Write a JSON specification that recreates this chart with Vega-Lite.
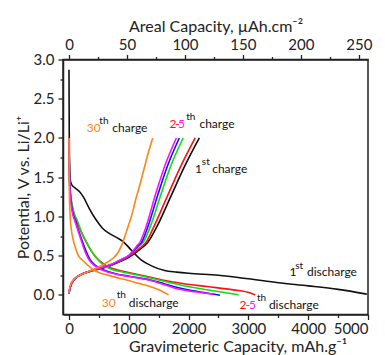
{
  "$schema": "https://vega.github.io/schema/vega-lite/v6.json",
  "width": 305,
  "height": 255,
  "autosize": "none",
  "padding": {"left": 63, "top": 59.5, "right": 17, "bottom": 40.5},
  "background": "white",
  "config": {
    "view": {"stroke": "#222", "strokeWidth": 1.5},
    "font": "Lato",
    "axis": {
      "labelFont": "Lato", "labelFontSize": 15, "labelColor": "#222",
      "titleFont": "Lato", "titleFontSize": 16, "titleFontWeight": "normal", "titleColor": "#222",
      "domainColor": "#222", "domainWidth": 1.5, "tickColor": "#222", "tickWidth": 1.3,
      "grid": false
    }
  },
  "datasets": {
    "curves": [
      {"cycle":"1st","step":"discharge","cap":0,"v":2.87},
      {"cycle":"1st","step":"discharge","cap":2,"v":2.5},
      {"cycle":"1st","step":"discharge","cap":5,"v":2.0},
      {"cycle":"1st","step":"discharge","cap":12,"v":1.6},
      {"cycle":"1st","step":"discharge","cap":25,"v":1.45},
      {"cycle":"1st","step":"discharge","cap":50,"v":1.4},
      {"cycle":"1st","step":"discharge","cap":100,"v":1.365},
      {"cycle":"1st","step":"discharge","cap":170,"v":1.32},
      {"cycle":"1st","step":"discharge","cap":240,"v":1.25},
      {"cycle":"1st","step":"discharge","cap":340,"v":1.1},
      {"cycle":"1st","step":"discharge","cap":450,"v":0.96},
      {"cycle":"1st","step":"discharge","cap":560,"v":0.85},
      {"cycle":"1st","step":"discharge","cap":680,"v":0.78},
      {"cycle":"1st","step":"discharge","cap":800,"v":0.73},
      {"cycle":"1st","step":"discharge","cap":920,"v":0.67},
      {"cycle":"1st","step":"discharge","cap":1030,"v":0.58},
      {"cycle":"1st","step":"discharge","cap":1200,"v":0.45},
      {"cycle":"1st","step":"discharge","cap":1380,"v":0.37},
      {"cycle":"1st","step":"discharge","cap":1600,"v":0.31},
      {"cycle":"1st","step":"discharge","cap":1800,"v":0.29},
      {"cycle":"1st","step":"discharge","cap":2000,"v":0.275},
      {"cycle":"1st","step":"discharge","cap":2500,"v":0.25},
      {"cycle":"1st","step":"discharge","cap":3000,"v":0.205},
      {"cycle":"1st","step":"discharge","cap":3500,"v":0.155},
      {"cycle":"1st","step":"discharge","cap":4000,"v":0.115},
      {"cycle":"1st","step":"discharge","cap":4500,"v":0.07},
      {"cycle":"1st","step":"discharge","cap":4980,"v":0.01},

      {"cycle":"1st","step":"charge","cap":0,"v":0.02},
      {"cycle":"1st","step":"charge","cap":10,"v":0.06},
      {"cycle":"1st","step":"charge","cap":30,"v":0.12},
      {"cycle":"1st","step":"charge","cap":70,"v":0.18},
      {"cycle":"1st","step":"charge","cap":130,"v":0.225},
      {"cycle":"1st","step":"charge","cap":220,"v":0.262},
      {"cycle":"1st","step":"charge","cap":330,"v":0.292},
      {"cycle":"1st","step":"charge","cap":450,"v":0.318},
      {"cycle":"1st","step":"charge","cap":600,"v":0.35},
      {"cycle":"1st","step":"charge","cap":720,"v":0.38},
      {"cycle":"1st","step":"charge","cap":850,"v":0.425},
      {"cycle":"1st","step":"charge","cap":1000,"v":0.48},
      {"cycle":"1st","step":"charge","cap":1100,"v":0.53},
      {"cycle":"1st","step":"charge","cap":1200,"v":0.59},
      {"cycle":"1st","step":"charge","cap":1310,"v":0.66},
      {"cycle":"1st","step":"charge","cap":1470,"v":0.87},
      {"cycle":"1st","step":"charge","cap":1700,"v":1.25},
      {"cycle":"1st","step":"charge","cap":1935,"v":1.64},
      {"cycle":"1st","step":"charge","cap":2180,"v":2.0},

      {"cycle":"2nd","step":"discharge","cap":0,"v":2.0},
      {"cycle":"2nd","step":"discharge","cap":4,"v":1.75},
      {"cycle":"2nd","step":"discharge","cap":10,"v":1.5},
      {"cycle":"2nd","step":"discharge","cap":25,"v":1.3},
      {"cycle":"2nd","step":"discharge","cap":50,"v":1.15},
      {"cycle":"2nd","step":"discharge","cap":90,"v":1.02},
      {"cycle":"2nd","step":"discharge","cap":140,"v":0.92},
      {"cycle":"2nd","step":"discharge","cap":200,"v":0.81},
      {"cycle":"2nd","step":"discharge","cap":270,"v":0.7},
      {"cycle":"2nd","step":"discharge","cap":350,"v":0.59},
      {"cycle":"2nd","step":"discharge","cap":440,"v":0.49},
      {"cycle":"2nd","step":"discharge","cap":550,"v":0.41},
      {"cycle":"2nd","step":"discharge","cap":650,"v":0.36},
      {"cycle":"2nd","step":"discharge","cap":850,"v":0.31},
      {"cycle":"2nd","step":"discharge","cap":1050,"v":0.275},
      {"cycle":"2nd","step":"discharge","cap":1250,"v":0.245},
      {"cycle":"2nd","step":"discharge","cap":1558,"v":0.19},
      {"cycle":"2nd","step":"discharge","cap":1900,"v":0.145},
      {"cycle":"2nd","step":"discharge","cap":2306,"v":0.106},
      {"cycle":"2nd","step":"discharge","cap":2752,"v":0.064},
      {"cycle":"2nd","step":"discharge","cap":3032,"v":0.025},
      {"cycle":"2nd","step":"discharge","cap":3115,"v":0.0},

      {"cycle":"2nd","step":"charge","cap":0,"v":0.02},
      {"cycle":"2nd","step":"charge","cap":10,"v":0.06},
      {"cycle":"2nd","step":"charge","cap":30,"v":0.12},
      {"cycle":"2nd","step":"charge","cap":70,"v":0.18},
      {"cycle":"2nd","step":"charge","cap":130,"v":0.225},
      {"cycle":"2nd","step":"charge","cap":220,"v":0.265},
      {"cycle":"2nd","step":"charge","cap":330,"v":0.295},
      {"cycle":"2nd","step":"charge","cap":450,"v":0.322},
      {"cycle":"2nd","step":"charge","cap":600,"v":0.355},
      {"cycle":"2nd","step":"charge","cap":720,"v":0.385},
      {"cycle":"2nd","step":"charge","cap":850,"v":0.43},
      {"cycle":"2nd","step":"charge","cap":1000,"v":0.49},
      {"cycle":"2nd","step":"charge","cap":1100,"v":0.545},
      {"cycle":"2nd","step":"charge","cap":1190,"v":0.6},
      {"cycle":"2nd","step":"charge","cap":1280,"v":0.66},
      {"cycle":"2nd","step":"charge","cap":1420,"v":0.87},
      {"cycle":"2nd","step":"charge","cap":1640,"v":1.25},
      {"cycle":"2nd","step":"charge","cap":1870,"v":1.64},
      {"cycle":"2nd","step":"charge","cap":2110,"v":2.0},

      {"cycle":"3rd","step":"discharge","cap":0,"v":2.0},
      {"cycle":"3rd","step":"discharge","cap":4,"v":1.75},
      {"cycle":"3rd","step":"discharge","cap":10,"v":1.5},
      {"cycle":"3rd","step":"discharge","cap":25,"v":1.3},
      {"cycle":"3rd","step":"discharge","cap":50,"v":1.15},
      {"cycle":"3rd","step":"discharge","cap":90,"v":1.03},
      {"cycle":"3rd","step":"discharge","cap":134,"v":0.957},
      {"cycle":"3rd","step":"discharge","cap":200,"v":0.82},
      {"cycle":"3rd","step":"discharge","cap":273,"v":0.7},
      {"cycle":"3rd","step":"discharge","cap":350,"v":0.59},
      {"cycle":"3rd","step":"discharge","cap":441,"v":0.49},
      {"cycle":"3rd","step":"discharge","cap":520,"v":0.42},
      {"cycle":"3rd","step":"discharge","cap":609,"v":0.36},
      {"cycle":"3rd","step":"discharge","cap":700,"v":0.33},
      {"cycle":"3rd","step":"discharge","cap":832,"v":0.3},
      {"cycle":"3rd","step":"discharge","cap":1000,"v":0.275},
      {"cycle":"3rd","step":"discharge","cap":1167,"v":0.25},
      {"cycle":"3rd","step":"discharge","cap":1400,"v":0.21},
      {"cycle":"3rd","step":"discharge","cap":1558,"v":0.18},
      {"cycle":"3rd","step":"discharge","cap":1900,"v":0.12},
      {"cycle":"3rd","step":"discharge","cap":2306,"v":0.065},
      {"cycle":"3rd","step":"discharge","cap":2600,"v":0.03},
      {"cycle":"3rd","step":"discharge","cap":2836,"v":0.0},

      {"cycle":"3rd","step":"charge","cap":0,"v":0.02},
      {"cycle":"3rd","step":"charge","cap":10,"v":0.06},
      {"cycle":"3rd","step":"charge","cap":30,"v":0.12},
      {"cycle":"3rd","step":"charge","cap":70,"v":0.18},
      {"cycle":"3rd","step":"charge","cap":130,"v":0.225},
      {"cycle":"3rd","step":"charge","cap":220,"v":0.265},
      {"cycle":"3rd","step":"charge","cap":330,"v":0.296},
      {"cycle":"3rd","step":"charge","cap":450,"v":0.323},
      {"cycle":"3rd","step":"charge","cap":600,"v":0.357},
      {"cycle":"3rd","step":"charge","cap":720,"v":0.388},
      {"cycle":"3rd","step":"charge","cap":850,"v":0.435},
      {"cycle":"3rd","step":"charge","cap":1000,"v":0.5},
      {"cycle":"3rd","step":"charge","cap":1090,"v":0.56},
      {"cycle":"3rd","step":"charge","cap":1170,"v":0.62},
      {"cycle":"3rd","step":"charge","cap":1250,"v":0.68},
      {"cycle":"3rd","step":"charge","cap":1360,"v":0.87},
      {"cycle":"3rd","step":"charge","cap":1525,"v":1.25},
      {"cycle":"3rd","step":"charge","cap":1700,"v":1.64},
      {"cycle":"3rd","step":"charge","cap":1910,"v":2.0},

      {"cycle":"4th","step":"discharge","cap":0,"v":2.0},
      {"cycle":"4th","step":"discharge","cap":3,"v":1.75},
      {"cycle":"4th","step":"discharge","cap":8,"v":1.5},
      {"cycle":"4th","step":"discharge","cap":20,"v":1.3},
      {"cycle":"4th","step":"discharge","cap":40,"v":1.15},
      {"cycle":"4th","step":"discharge","cap":70,"v":1.03},
      {"cycle":"4th","step":"discharge","cap":106,"v":0.95},
      {"cycle":"4th","step":"discharge","cap":160,"v":0.82},
      {"cycle":"4th","step":"discharge","cap":225,"v":0.68},
      {"cycle":"4th","step":"discharge","cap":290,"v":0.55},
      {"cycle":"4th","step":"discharge","cap":345,"v":0.46},
      {"cycle":"4th","step":"discharge","cap":420,"v":0.39},
      {"cycle":"4th","step":"discharge","cap":520,"v":0.34},
      {"cycle":"4th","step":"discharge","cap":640,"v":0.3},
      {"cycle":"4th","step":"discharge","cap":780,"v":0.27},
      {"cycle":"4th","step":"discharge","cap":1030,"v":0.235},
      {"cycle":"4th","step":"discharge","cap":1360,"v":0.19},
      {"cycle":"4th","step":"discharge","cap":1580,"v":0.145},
      {"cycle":"4th","step":"discharge","cap":1780,"v":0.1},
      {"cycle":"4th","step":"discharge","cap":2050,"v":0.055},
      {"cycle":"4th","step":"discharge","cap":2306,"v":0.025},
      {"cycle":"4th","step":"discharge","cap":2525,"v":-0.005},

      {"cycle":"4th","step":"charge","cap":0,"v":0.02},
      {"cycle":"4th","step":"charge","cap":10,"v":0.06},
      {"cycle":"4th","step":"charge","cap":30,"v":0.12},
      {"cycle":"4th","step":"charge","cap":70,"v":0.18},
      {"cycle":"4th","step":"charge","cap":130,"v":0.226},
      {"cycle":"4th","step":"charge","cap":220,"v":0.266},
      {"cycle":"4th","step":"charge","cap":330,"v":0.297},
      {"cycle":"4th","step":"charge","cap":450,"v":0.325},
      {"cycle":"4th","step":"charge","cap":600,"v":0.36},
      {"cycle":"4th","step":"charge","cap":720,"v":0.39},
      {"cycle":"4th","step":"charge","cap":850,"v":0.44},
      {"cycle":"4th","step":"charge","cap":1000,"v":0.5},
      {"cycle":"4th","step":"charge","cap":1080,"v":0.56},
      {"cycle":"4th","step":"charge","cap":1150,"v":0.62},
      {"cycle":"4th","step":"charge","cap":1215,"v":0.67},
      {"cycle":"4th","step":"charge","cap":1320,"v":0.87},
      {"cycle":"4th","step":"charge","cap":1475,"v":1.25},
      {"cycle":"4th","step":"charge","cap":1645,"v":1.64},
      {"cycle":"4th","step":"charge","cap":1845,"v":2.0},

      {"cycle":"5th","step":"discharge","cap":0,"v":2.0},
      {"cycle":"5th","step":"discharge","cap":3,"v":1.75},
      {"cycle":"5th","step":"discharge","cap":8,"v":1.5},
      {"cycle":"5th","step":"discharge","cap":18,"v":1.3},
      {"cycle":"5th","step":"discharge","cap":36,"v":1.15},
      {"cycle":"5th","step":"discharge","cap":62,"v":1.03},
      {"cycle":"5th","step":"discharge","cap":95,"v":0.95},
      {"cycle":"5th","step":"discharge","cap":150,"v":0.82},
      {"cycle":"5th","step":"discharge","cap":210,"v":0.68},
      {"cycle":"5th","step":"discharge","cap":270,"v":0.55},
      {"cycle":"5th","step":"discharge","cap":325,"v":0.46},
      {"cycle":"5th","step":"discharge","cap":400,"v":0.39},
      {"cycle":"5th","step":"discharge","cap":497,"v":0.34},
      {"cycle":"5th","step":"discharge","cap":610,"v":0.3},
      {"cycle":"5th","step":"discharge","cap":720,"v":0.277},
      {"cycle":"5th","step":"discharge","cap":1000,"v":0.234},
      {"cycle":"5th","step":"discharge","cap":1335,"v":0.19},
      {"cycle":"5th","step":"discharge","cap":1558,"v":0.14},
      {"cycle":"5th","step":"discharge","cap":1747,"v":0.09},
      {"cycle":"5th","step":"discharge","cap":2000,"v":0.05},
      {"cycle":"5th","step":"discharge","cap":2250,"v":0.025},
      {"cycle":"5th","step":"discharge","cap":2418,"v":0.01},

      {"cycle":"5th","step":"charge","cap":0,"v":0.02},
      {"cycle":"5th","step":"charge","cap":10,"v":0.06},
      {"cycle":"5th","step":"charge","cap":30,"v":0.12},
      {"cycle":"5th","step":"charge","cap":70,"v":0.18},
      {"cycle":"5th","step":"charge","cap":130,"v":0.227},
      {"cycle":"5th","step":"charge","cap":220,"v":0.267},
      {"cycle":"5th","step":"charge","cap":330,"v":0.298},
      {"cycle":"5th","step":"charge","cap":450,"v":0.326},
      {"cycle":"5th","step":"charge","cap":600,"v":0.362},
      {"cycle":"5th","step":"charge","cap":720,"v":0.393},
      {"cycle":"5th","step":"charge","cap":850,"v":0.445},
      {"cycle":"5th","step":"charge","cap":1000,"v":0.5},
      {"cycle":"5th","step":"charge","cap":1070,"v":0.56},
      {"cycle":"5th","step":"charge","cap":1130,"v":0.62},
      {"cycle":"5th","step":"charge","cap":1185,"v":0.67},
      {"cycle":"5th","step":"charge","cap":1290,"v":0.87},
      {"cycle":"5th","step":"charge","cap":1435,"v":1.25},
      {"cycle":"5th","step":"charge","cap":1600,"v":1.64},
      {"cycle":"5th","step":"charge","cap":1795,"v":2.0},

      {"cycle":"30th","step":"discharge","cap":0,"v":2.0},
      {"cycle":"30th","step":"discharge","cap":2,"v":1.7},
      {"cycle":"30th","step":"discharge","cap":5,"v":1.4},
      {"cycle":"30th","step":"discharge","cap":10,"v":1.2},
      {"cycle":"30th","step":"discharge","cap":20,"v":1.0},
      {"cycle":"30th","step":"discharge","cap":40,"v":0.83},
      {"cycle":"30th","step":"discharge","cap":65,"v":0.72},
      {"cycle":"30th","step":"discharge","cap":100,"v":0.62},
      {"cycle":"30th","step":"discharge","cap":150,"v":0.51},
      {"cycle":"30th","step":"discharge","cap":212,"v":0.45},
      {"cycle":"30th","step":"discharge","cap":300,"v":0.39},
      {"cycle":"30th","step":"discharge","cap":407,"v":0.32},
      {"cycle":"30th","step":"discharge","cap":520,"v":0.28},
      {"cycle":"30th","step":"discharge","cap":631,"v":0.255},
      {"cycle":"30th","step":"discharge","cap":800,"v":0.22},
      {"cycle":"30th","step":"discharge","cap":966,"v":0.19},
      {"cycle":"30th","step":"discharge","cap":1150,"v":0.15},
      {"cycle":"30th","step":"discharge","cap":1357,"v":0.106},
      {"cycle":"30th","step":"discharge","cap":1500,"v":0.065},
      {"cycle":"30th","step":"discharge","cap":1664,"v":0.0},

      {"cycle":"30th","step":"charge","cap":0,"v":0.02},
      {"cycle":"30th","step":"charge","cap":8,"v":0.07},
      {"cycle":"30th","step":"charge","cap":25,"v":0.13},
      {"cycle":"30th","step":"charge","cap":60,"v":0.18},
      {"cycle":"30th","step":"charge","cap":134,"v":0.226},
      {"cycle":"30th","step":"charge","cap":230,"v":0.265},
      {"cycle":"30th","step":"charge","cap":330,"v":0.3},
      {"cycle":"30th","step":"charge","cap":450,"v":0.34},
      {"cycle":"30th","step":"charge","cap":550,"v":0.375},
      {"cycle":"30th","step":"charge","cap":650,"v":0.42},
      {"cycle":"30th","step":"charge","cap":740,"v":0.47},
      {"cycle":"30th","step":"charge","cap":820,"v":0.54},
      {"cycle":"30th","step":"charge","cap":885,"v":0.64},
      {"cycle":"30th","step":"charge","cap":940,"v":0.76},
      {"cycle":"30th","step":"charge","cap":1000,"v":0.9},
      {"cycle":"30th","step":"charge","cap":1055,"v":1.03},
      {"cycle":"30th","step":"charge","cap":1110,"v":1.2},
      {"cycle":"30th","step":"charge","cap":1170,"v":1.36},
      {"cycle":"30th","step":"charge","cap":1260,"v":1.62},
      {"cycle":"30th","step":"charge","cap":1330,"v":1.82},
      {"cycle":"30th","step":"charge","cap":1400,"v":2.0}
    ],
    "labels": [
      {"cap":296,"v":2.076,"t":"30","cycle":"30th","sup":0},
      {"cap":507,"v":2.172,"t":"th","cycle":"1st","sup":1},
      {"cap":725,"v":2.076,"t":"charge","cycle":"1st","sup":0},
      {"cap":1679,"v":2.124,"t":"2","cycle":"2nd","sup":0},
      {"cap":1775,"v":2.124,"t":"-","cycle":"2nd","sup":0},
      {"cap":1825,"v":2.124,"t":"5","cycle":"5th","sup":0},
      {"cap":1959,"v":2.229,"t":"th","cycle":"1st","sup":1},
      {"cap":2181,"v":2.124,"t":"charge","cycle":"1st","sup":0},
      {"cap":2109,"v":1.55,"t":"1","cycle":"1st","sup":0},
      {"cap":2222,"v":1.656,"t":"st","cycle":"1st","sup":1},
      {"cap":2394,"v":1.55,"t":"charge","cycle":"1st","sup":0},
      {"cap":3688,"v":0.246,"t":"1","cycle":"1st","sup":0},
      {"cap":3784,"v":0.331,"t":"st","cycle":"1st","sup":1},
      {"cap":3980,"v":0.246,"t":"discharge","cycle":"1st","sup":0},
      {"cap":547,"v":-0.157,"t":"30","cycle":"30th","sup":0},
      {"cap":799,"v":-0.042,"t":"th","cycle":"1st","sup":1},
      {"cap":1000,"v":-0.157,"t":"discharge","cycle":"1st","sup":0},
      {"cap":2851,"v":-0.182,"t":"2","cycle":"2nd","sup":0},
      {"cap":2955,"v":-0.182,"t":"-","cycle":"2nd","sup":0},
      {"cap":3009,"v":-0.182,"t":"5","cycle":"5th","sup":0},
      {"cap":3143,"v":-0.073,"t":"th","cycle":"1st","sup":1},
      {"cap":3343,"v":-0.182,"t":"discharge","cycle":"1st","sup":0}
    ],
    "anchor": [{"cap": 0, "v": 0}]
  },
  "resolve": {"axis": {"x": "independent", "y": "independent"}},
  "layer": [
    {
      "data": {"name": "curves"},
      "mark": {"type": "line", "strokeWidth": 1.6, "interpolate": "monotone", "clip": true},
      "encoding": {
        "x": {"field": "cap", "type": "quantitative",
              "scale": {"domain": [-100, 5000], "nice": false, "zero": false},
              "axis": {"orient": "bottom", "values": [0, 1000, 2000, 3000, 4000, 5000], "format": "d",
                       "tickSize": 5, "labelPadding": 2, "title": "Gravimeteric Capacity, mAh.g⁻¹",
                       "titleX": 174.5, "titleY": 37, "titleBaseline": "alphabetic"}},
        "y": {"field": "v", "type": "quantitative",
              "scale": {"domain": [-0.25, 3.0], "nice": false, "zero": false},
              "axis": {"orient": "left", "values": [0, 0.5, 1, 1.5, 2, 2.5, 3], "format": ".1f",
                       "tickSize": 5, "labelPadding": 4, "title": "Potential, V vs. Li/Li⁺",
                       "titlePadding": 2}},
        "color": {"field": "cycle", "type": "nominal",
                  "scale": {"domain": ["1st", "2nd", "3rd", "4th", "5th", "30th"],
                            "range": ["#111111", "#ff1010", "#10dd10", "#1010ff", "#ff10ff", "#ff8519"]},
                  "legend": null},
        "detail": {"field": "step", "type": "nominal"}
      }
    },
    {
      "data": {"name": "anchor"},
      "mark": {"type": "point", "opacity": 0},
      "encoding": {
        "x": {"field": "cap", "type": "quantitative",
              "scale": {"domain": [-100, 5000], "nice": false, "zero": false},
              "axis": {"orient": "bottom", "values": [500, 1500, 2500, 3500, 4500], "labels": false,
                       "tickSize": 3, "domain": false, "title": null}},
        "y": {"field": "v", "type": "quantitative",
              "scale": {"domain": [-0.25, 3.0], "nice": false, "zero": false},
              "axis": {"orient": "left", "values": [0.25, 0.75, 1.25, 1.75, 2.25, 2.75], "labels": false,
                       "tickSize": 3, "domain": false, "title": null}}
      }
    },
    {
      "data": {"name": "anchor"},
      "mark": {"type": "point", "opacity": 0},
      "encoding": {
        "x": {"field": "cap", "type": "quantitative",
              "scale": {"domain": [-100, 5000], "nice": false, "zero": false},
              "axis": {"orient": "top", "values": [0, 969.5, 1939, 2908.5, 3878, 4847.5],
                       "labelExpr": "format(datum.value / 19.39, '.0f')",
                       "tickSize": 5, "labelPadding": 2, "title": "Areal Capacity, µAh.cm⁻²",
                       "titleY": -28.5, "titleBaseline": "alphabetic"}}
      }
    },
    {
      "data": {"name": "anchor"},
      "mark": {"type": "point", "opacity": 0},
      "encoding": {
        "x": {"field": "cap", "type": "quantitative",
              "scale": {"domain": [-100, 5000], "nice": false, "zero": false},
              "axis": {"orient": "top", "values": [484.75, 1454.25, 2423.75, 3393.25, 4362.75], "labels": false,
                       "tickSize": 3, "domain": false, "title": null}}
      }
    },
    {
      "data": {"name": "labels"},
      "transform": [{"filter": "datum.sup == 0"}],
      "mark": {"type": "text", "align": "left", "baseline": "alphabetic", "font": "Lato", "fontSize": 12},
      "encoding": {
        "x": {"field": "cap", "type": "quantitative", "scale": {"domain": [-100, 5000], "nice": false, "zero": false}, "axis": null},
        "y": {"field": "v", "type": "quantitative", "scale": {"domain": [-0.25, 3.0], "nice": false, "zero": false}, "axis": null},
        "text": {"field": "t"},
        "color": {"field": "cycle", "type": "nominal", "legend": null}
      }
    },
    {
      "data": {"name": "labels"},
      "transform": [{"filter": "datum.sup == 1"}],
      "mark": {"type": "text", "align": "left", "baseline": "alphabetic", "font": "Lato", "fontSize": 10},
      "encoding": {
        "x": {"field": "cap", "type": "quantitative", "scale": {"domain": [-100, 5000], "nice": false, "zero": false}, "axis": null},
        "y": {"field": "v", "type": "quantitative", "scale": {"domain": [-0.25, 3.0], "nice": false, "zero": false}, "axis": null},
        "text": {"field": "t"},
        "color": {"field": "cycle", "type": "nominal", "legend": null}
      }
    }
  ]
}
